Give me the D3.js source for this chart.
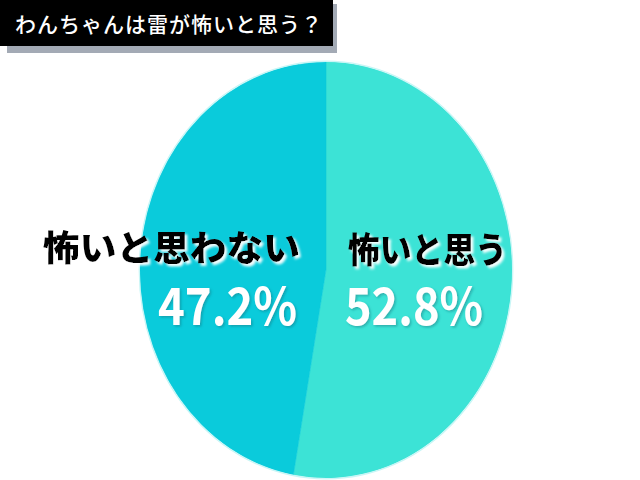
<!DOCTYPE html>
<html><head><meta charset="utf-8">
<script src="https://cdn.jsdelivr.net/npm/d3@7"></script>
<style>html,body{margin:0;padding:0;background:#fff;}svg{display:block;}</style>
</head><body>
<script>
const title = "わんちゃんは雷が怖いと思う？";
const categories = ["怖いと思う", "怖いと思わない"];
const values = [52.8, 47.2];
const colors = ["#3ce3d6", "#0acbdb"];

const W = 640, H = 480;
const svg = d3.select("body").append("svg").attr("width", W).attr("height", H);

const defs = svg.append("defs");
const f1 = defs.append("filter").attr("id","whiteShadow").attr("x","-10%").attr("y","-10%").attr("width","130%").attr("height","140%");
f1.append("feDropShadow").attr("dx",2.5).attr("dy",2.5).attr("stdDeviation",0.8).attr("flood-color","#ffffff").attr("flood-opacity",0.95);
const f2 = defs.append("filter").attr("id","darkShadow").attr("x","-10%").attr("y","-10%").attr("width","130%").attr("height","140%");
f2.append("feDropShadow").attr("dx",1.5).attr("dy",1.5).attr("stdDeviation",1.2).attr("flood-color","#1a6f78").attr("flood-opacity",0.45);

// title box
svg.append("rect").attr("x",7).attr("y",4).attr("width",330).attr("height",49).attr("fill","#a3aab5");
svg.append("rect").attr("x",0).attr("y",0).attr("width",333).attr("height",46).attr("fill","#000");
svg.append("text").attr("x",15).attr("y",32)
  .attr("font-family","'Noto Sans CJK JP', sans-serif").attr("font-weight",500)
  .attr("font-size",21).attr("letter-spacing",1).attr("fill","#fff").text(title);

// pie
const cx = 326, cy = 270, rx = 186, ry = 208;
const pie = d3.pie().sort(null).value(d => d)(values);
const arc = d3.arc().innerRadius(0).outerRadius(rx);
const g = svg.append("g").attr("transform", `translate(${cx},${cy}) scale(1,${ry/rx})`);
g.selectAll("path").data(pie).join("path")
  .attr("d", arc).attr("fill", (d,i) => colors[i])
  .attr("stroke", (d,i)=>colors[i]).attr("stroke-width",0.5);
g.append("ellipse").attr("rx",rx+0.8).attr("ry",rx+0.8).attr("fill","none").attr("stroke","#c8f6f6").attr("stroke-width",1.2);

// labels
const labelPos = [
  {anchor:"start", x:348, y:263, ny:325, lw:159, nw:138},
  {anchor:"end", x:300, y:261, ny:325, lw:257, nw:139}
];
const fmt = v => v.toFixed(1) + "%";
pie.forEach((d,i) => {
  const p = labelPos[i];
  svg.append("text").attr("x",p.x).attr("y",p.y).attr("text-anchor",p.anchor)
    .attr("font-family","'Noto Sans CJK JP', sans-serif").attr("font-weight",900)
    .attr("font-size",35).attr("fill","#000").attr("filter","url(#whiteShadow)")
    .attr("textLength",p.lw).attr("lengthAdjust","spacingAndGlyphs")
    .text(categories[i]);
  svg.append("text").attr("x",p.anchor==="end"?p.x-3:p.x-3).attr("y",p.ny).attr("text-anchor",p.anchor)
    .attr("font-family","'Noto Sans CJK JP', sans-serif").attr("font-weight",700)
    .attr("font-size",52).attr("fill","#fff").attr("filter","url(#darkShadow)")
    .attr("textLength",p.nw).attr("lengthAdjust","spacingAndGlyphs")
    .text(fmt(values[i]));
});
</script>
</body></html>
